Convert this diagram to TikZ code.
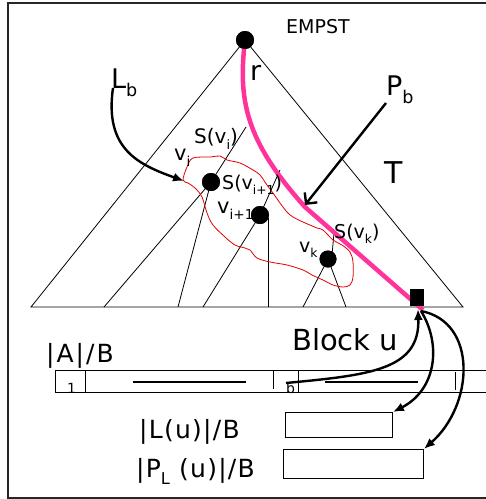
\documentclass[tikz,border=0pt]{standalone}
\usepackage{graphicx}
\usepackage{fontspec}
\setmainfont{DejaVu Sans}
\usetikzlibrary{arrows.meta}
\definecolor{pathpink}{HTML}{FF3399}
\definecolor{loopred}{HTML}{E00000}
\newcommand\fs[1]{\fontsize{#1}{#1}\selectfont}
\newcommand\lsub[1]{\raisebox{-0.3em}{\scalebox{0.65}{#1}}}
\begin{document}
\begin{tikzpicture}[x=1pt,y=-1pt,
  dot/.style={circle,fill=black,inner sep=0pt,minimum size=18pt},
  lbl/.style={anchor=base west,inner sep=0pt},
  tree/.style={line width=0.8pt},
  bigarrow/.style={line width=2.4pt,-{Latex[length=11pt,width=9pt]}},
  link/.style={line width=2.4pt},
  wide/.style={/utils/exec=\addfontfeature{LetterSpace=5}}]
\useasboundingbox (0,0) rectangle (486,499);
\clip (0,0) rectangle (486,499);
\draw[line width=1.5pt,black!85] (8,3) rectangle (495,498);

% tree nodes
\node[dot] (r) at (245,40) {};
\node[dot] (vi) at (211,182) {};
\node[dot] (vi1) at (260,215) {};
\node[dot,minimum size=17pt] (vk) at (328,259) {};

% base of the tree and leaf ends
\coordinate (bl) at (31,307);
\coordinate (br) at (463,307);
\coordinate (svi) at (246,127);
\coordinate (svi1) at (280,170);
\coordinate (svk) at (334,233);
\coordinate (vkin) at (332,255);
\coordinate (vivert) at (268,218);
\foreach \n/\x in {a/104,b/178,c/203,d/268,e/303,f/346}
  \coordinate (leaf\n) at (\x,307);

\begin{scope}[tree]
  \draw (r.center) -- (bl) -- (br) -- cycle;
  \draw (svi) -- (vi.center) -- (leafa);
  \draw (vi.center) -- (leafb);
  \draw (svi1) -- (vi1.center) -- (leafc);
  \draw (vivert) -- (leafd);
  \draw (svk) -- (vkin);
  \draw (vk.center) -- (leafe);
  \draw (vk.center) -- (leaff);
\end{scope}

% set L_b
\draw[loopred,line width=0.8pt] plot[smooth cycle,tension=0.55] coordinates {
  (183,180) (187,167) (193,158) (210,157) (220,156) (227,160) (240,163)
  (253,170) (260,175) (267,185) (273,193) (280,203) (287,212) (293,217)
  (303,222) (317,228) (323,230) (333,240) (342,245) (350,252) (353,262)
  (353,277) (350,285) (343,287) (333,285) (323,280) (312,275) (303,270)
  (287,265) (270,262) (257,258) (250,250) (245,248) (235,245) (225,237)
  (213,225) (207,213) (202,197) (195,188) (188,183)};

% path P_b from the root to block u
\coordinate (pbend) at (305,207);
\coordinate (pend) at (423,310);
\draw[pathpink,line width=4.5pt] (r.center) .. controls (238,100) and (245,140) .. (pbend) -- (pend);

% redraw dots over the lines
\node[dot] at (r) {};
\node[dot] at (vi) {};
\node[dot] at (vi1) {};
\node[dot,minimum size=17pt] at (vk) {};

% block u
\node[fill=black,minimum width=14pt,minimum height=17pt,inner sep=0pt,anchor=north west] (blk) at (410,289) {};

% labels in the tree
\node[lbl,font=\fs{19}] (empst) at (286,33) {EMPST};
\node[lbl,font=\fs{27}] (rlab) at (250,80) {r};
\node[lbl,font=\fs{27}] (lb) at (111,88) {L\lsub{b}};
\node[lbl,font=\fs{27}] (pb) at (386,95) {P\lsub{b}};
\node[lbl,font=\fs{30}] (tlab) at (384,183) {T};
\node[lbl,font=\fs{20}] (svilab) at (194,143) {S(v\lsub{i})};
\node[lbl,font=\fs{21}] (vilab) at (174,160) {v\lsub{i}};
\node[lbl,font=\fs{19}] (svi1lab) at (222,189) {S(v\lsub{i+1})};
\node[lbl,font=\fs{21}] (vi1lab) at (217,213) {v\lsub{i+1}};
\node[lbl,font=\fs{19}] (vklab) at (299,252) {v\lsub{k}};
\node[lbl,font=\fs{19}] (svklab) at (334,238) {S(v\lsub{k})};

% arrows naming L_b and P_b
\coordinate (lbstart) at (113,88);
\coordinate (lbtip) at (184,181);
\draw[bigarrow] (lbstart) .. controls (104,150) and (140,165) .. (lbtip);
\coordinate (pbstart) at (386,103);
\coordinate (pbtip) at (305,205);
\draw[line width=2.4pt,-{Straight Barb[length=8pt,width=16pt]}] (pbstart) -- (pbtip);

% external memory layout
\node[lbl,font=\fs{29}] (blocklab) at (292,350) {Block u};
\node[lbl,font=\fs{25}] (alab) at (46,362) {\addfontfeature{LetterSpace=8}|A|/B};
\node[draw,line width=0.9pt,anchor=north west,minimum width=445pt,minimum height=22pt,inner sep=0pt] (arr) at (55,370) {};
\begin{scope}[line width=0.9pt]
  \draw (85,370) -- (85,392);
  \draw (273,371) -- (273,389);
  \draw (298,370) -- (298,392);
  \draw (455,372) -- (455,390);
\end{scope}
\draw[line width=2pt] (133,382) -- (246,382);
\draw[line width=2pt] (325,382) -- (418,382);
\node[lbl,font=\fs{14}] (one) at (67,393) {1};
\node[lbl,font=\fs{14}] (bcelltext) at (286,393) {b};

\node[lbl,font=\fs{25}] (llab) at (139,438) {\addfontfeature{LetterSpace=5}|L(u)|/B};
\node[lbl,font=\fs{25}] (plab) at (136,477) {\addfontfeature{LetterSpace=5}|P\lsub{L} (u)|/B};
\node[draw,line width=0.9pt,anchor=north west,minimum width=107pt,minimum height=25pt,inner sep=0pt] (lbox) at (285,412) {};
\node[draw,line width=0.9pt,anchor=north west,minimum width=140pt,minimum height=29pt,inner sep=0pt] (pbox) at (283,449) {};

% links between block u and its storage
\coordinate (bcell) at (286,383);
\coordinate (blktip) at (418,309);
\coordinate (blkout) at (421,311);
\draw[bigarrow] (bcell) .. controls (370,375) and (420,370) .. (blktip);
\draw[bigarrow] (blkout) .. controls (442,345) and (436,390) .. (lbox.north east);
\draw[bigarrow] (blkout) .. controls (478,322) and (474,405) .. (pbox.north east);
\end{tikzpicture}
\end{document}
